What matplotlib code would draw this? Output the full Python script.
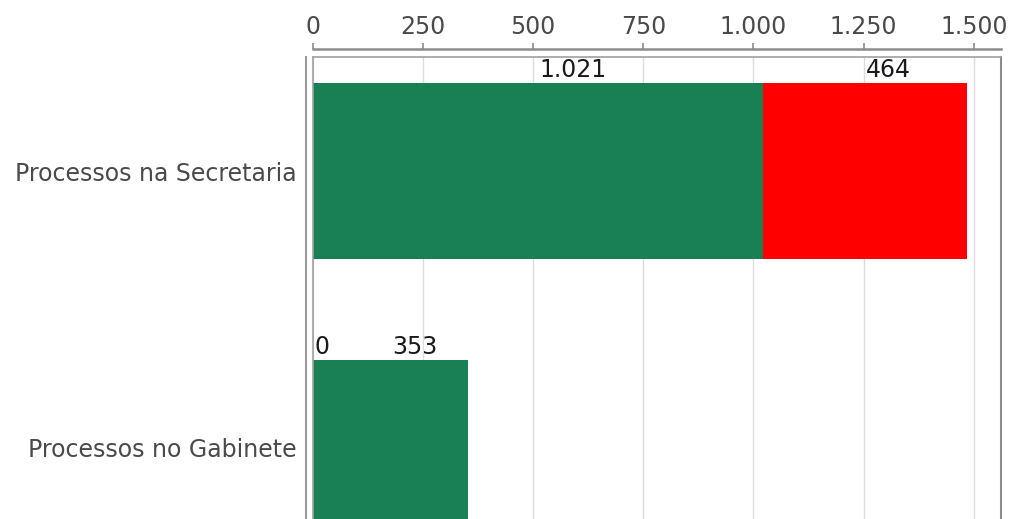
import matplotlib
matplotlib.use('Agg')
import matplotlib.pyplot as plt
from matplotlib.ticker import FuncFormatter

# Processos por local (stacked: no prazo / atrasados)
categorias = ['Processos na Secretaria', 'Processos no Gabinete']
no_prazo = [1021, 353]
atrasados = [464, 0]
xticks_max = 1500

cor_verde = '#188052'
cor_vermelho = '#ff0000'
cor_texto = '#4a4a4a'
cor_eixo = '#8c8c8c'

def fmt_milhar(v, pos=None):
    # thousands separator in pt-BR style
    return '{:,}'.format(int(round(v))).replace(',', '.')

plt.rcParams['font.family'] = 'DejaVu Sans'

fig = plt.figure(figsize=(10.15, 5.19), dpi=100)
ax = fig.add_axes([313 / 1015, 1 - 562 / 519, 688 / 1015, 505 / 519])

ypos = list(range(len(categorias)))
altura = 0.635

ax.barh(ypos, no_prazo, height=altura, color=cor_verde, zorder=3)
ax.barh(ypos, atrasados, left=no_prazo, height=altura, color=cor_vermelho, zorder=3)

# value labels sit above each segment, starting at its middle
for i in ypos:
    topo = i - altura / 2
    segs = [(0, no_prazo[i]), (no_prazo[i], atrasados[i])]
    for base, val in segs:
        xc = base + val / 2 if val > 0 else 0
        ax.annotate(fmt_milhar(val), xy=(xc, topo), xytext=(1, 1),
                    textcoords='offset points', ha='left', va='bottom',
                    fontsize=17, color='#1a1a1a', zorder=4)

ax.set_xlim(0, 1562)
ax.set_ylim(1.4116, -0.4116)
ax.set_yticks(ypos)
ax.set_yticklabels(categorias)

ax.set_xticks(list(range(0, xticks_max + 1, 250)))
ax.xaxis.set_major_formatter(FuncFormatter(fmt_milhar))
ax.xaxis.tick_top()
ax.tick_params(axis='x', which='major', length=4, width=1.2, color=cor_eixo,
               pad=3, labelsize=17, labelcolor=cor_texto)
ax.tick_params(axis='y', length=0, pad=6.5, labelsize=17, labelcolor=cor_texto)

ax.grid(axis='x', color='#dcdcdc', linewidth=1, zorder=0)

# axis lines pulled away from the plot box
ax.spines['top'].set_position(('outward', 6))
ax.spines['top'].set_color(cor_eixo)
ax.spines['top'].set_linewidth(1.8)
ax.spines['left'].set_position(('outward', 5))
ax.spines['left'].set_color('#9a9a9a')
ax.spines['left'].set_linewidth(1.5)
ax.spines['right'].set_color(cor_eixo)
ax.spines['right'].set_linewidth(1.5)
ax.spines['bottom'].set_visible(False)

# plot box edges
ax.plot([0, 1], [1, 1], transform=ax.transAxes, color='#a0a0a0', lw=1.2,
        clip_on=False, zorder=5)
ax.plot([0, 0], [0, 1], transform=ax.transAxes, color='#a0a0a0', lw=1.2,
        clip_on=False, zorder=5)

fig.savefig('out.png', dpi=100)
